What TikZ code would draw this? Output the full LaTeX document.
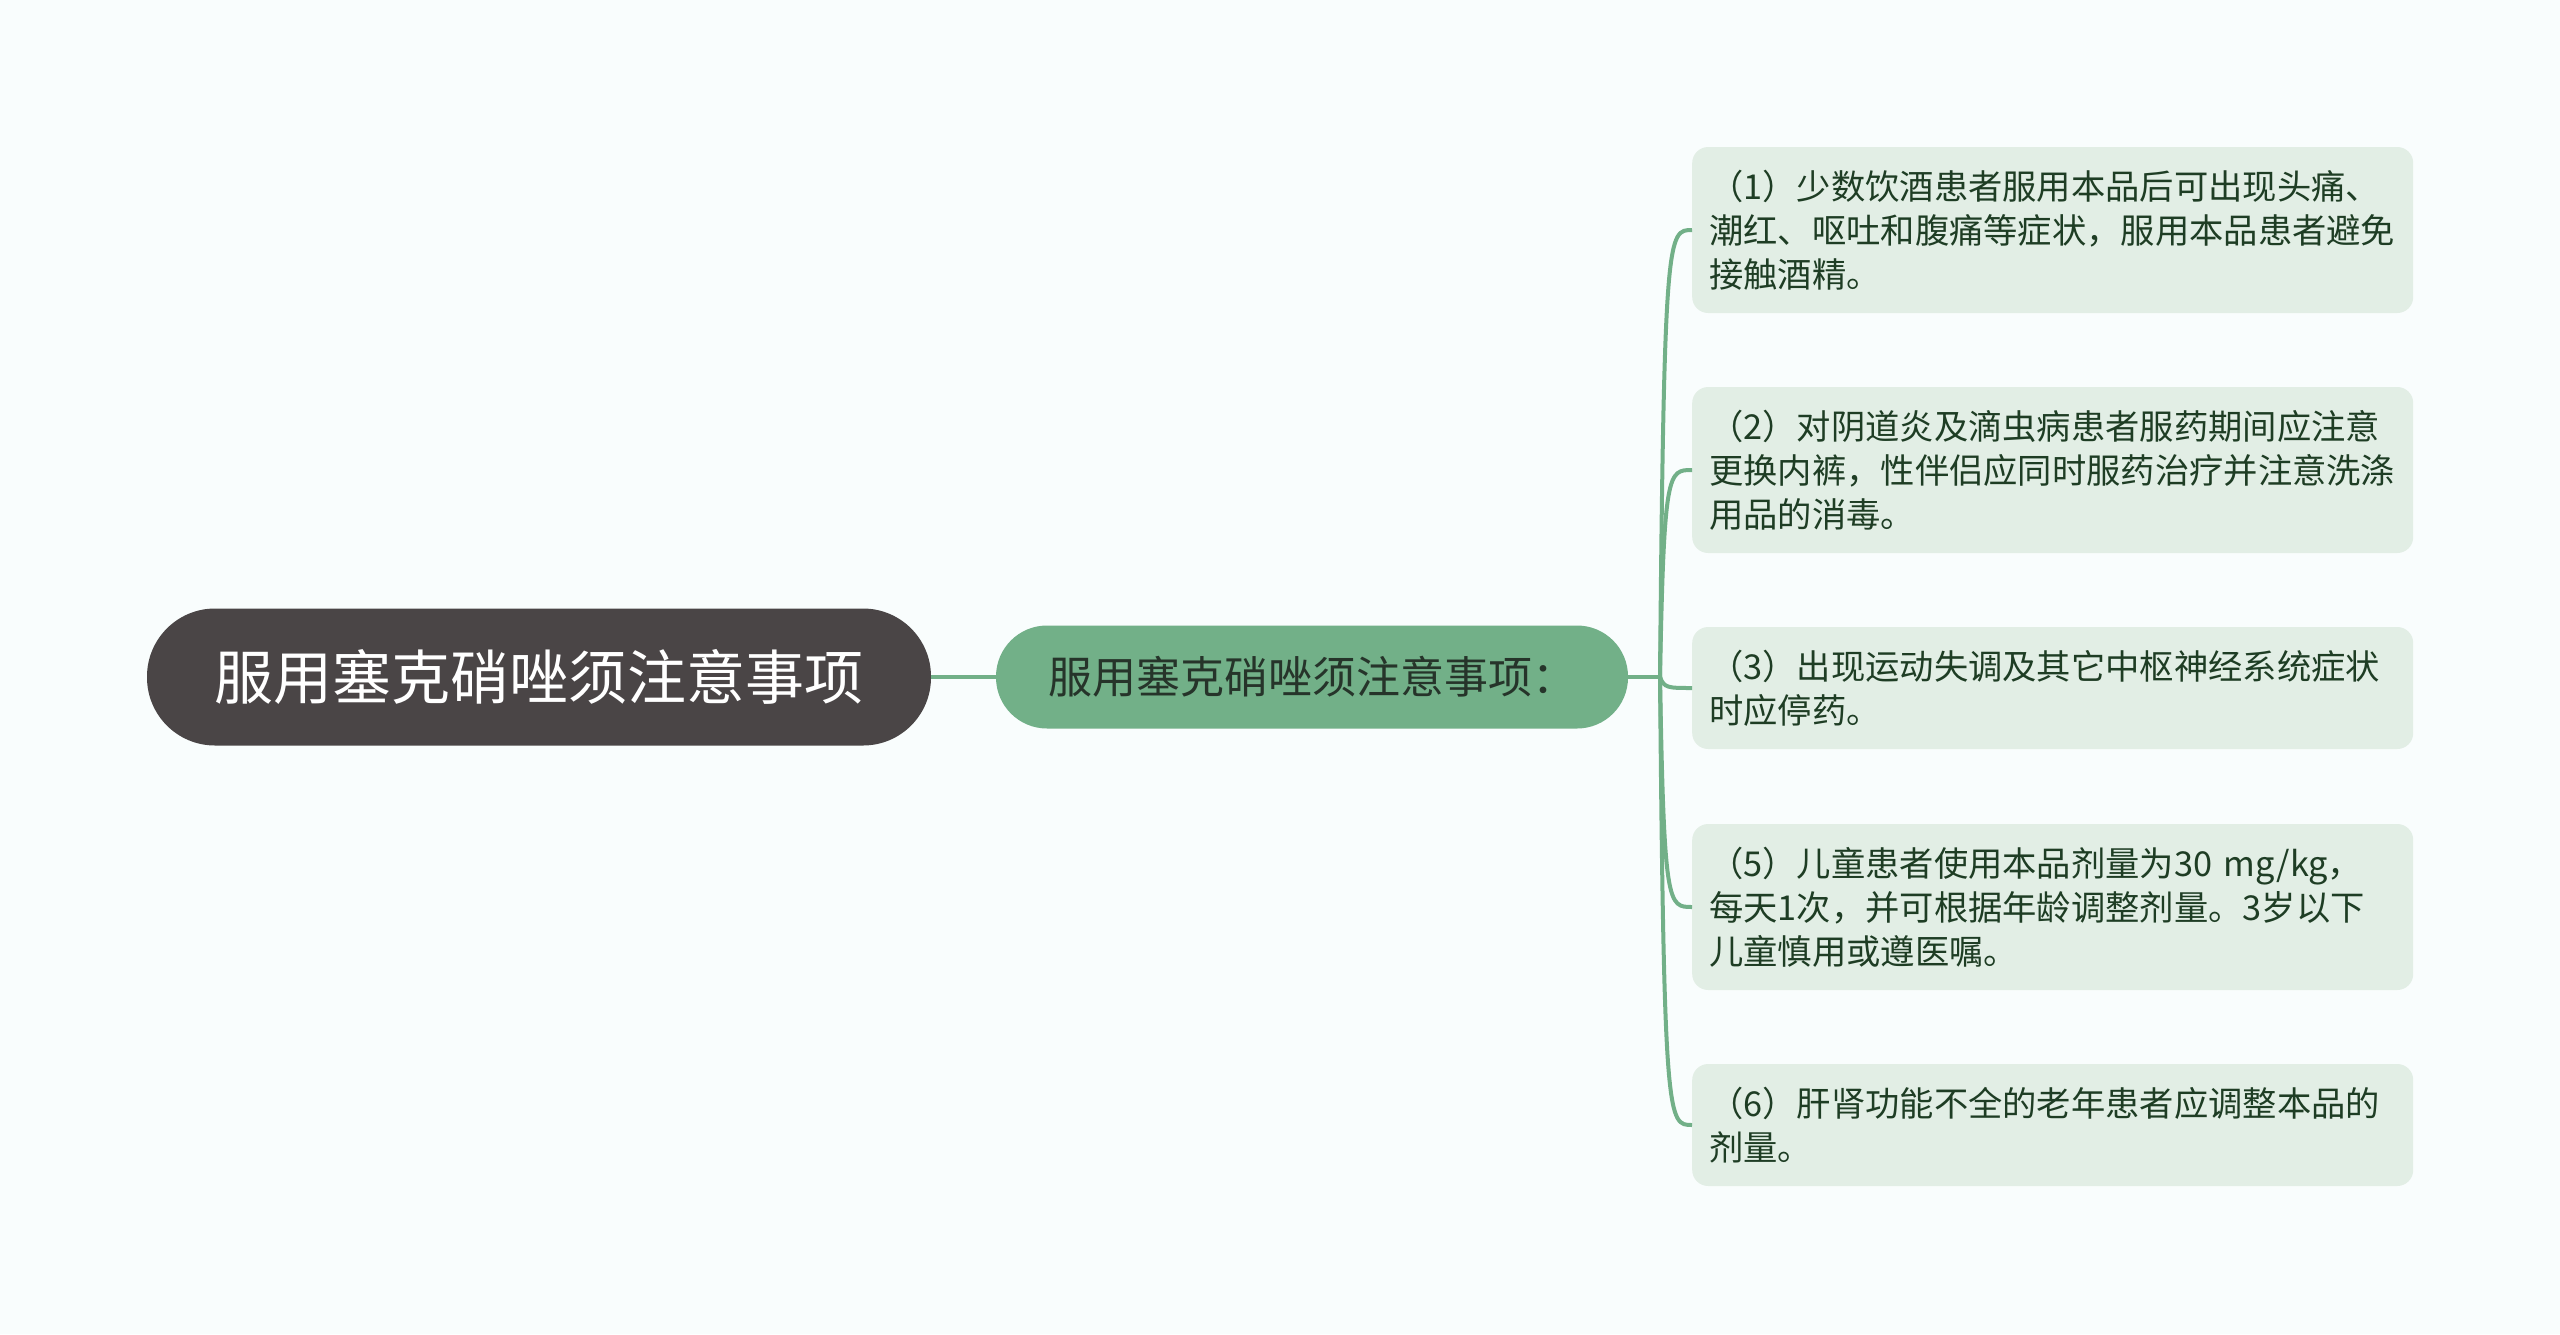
\documentclass[tikz,border=0pt]{standalone}
\usepackage{fontspec}
\usetikzlibrary{calc}
\newfontfamily\cjk{Noto Sans CJK SC}
\definecolor{bgc}{RGB}{249,253,253}
\definecolor{rootfill}{RGB}{74,69,70}
\definecolor{midfill}{RGB}{114,176,136}
\definecolor{midtext}{RGB}{38,52,42}
\definecolor{leaffill}{RGB}{226,238,229}
\definecolor{leaftext}{RGB}{30,61,36}
\definecolor{linegreen}{RGB}{114,176,136}
\tikzset{
  rootbox/.style={fill=rootfill, text=white, rounded corners=68pt, minimum width=784pt, minimum height=137pt, inner sep=0pt, font=\cjk\fontsize{59}{65}\selectfont},
  midbox/.style={fill=midfill, text=midtext, rounded corners=51pt, minimum width=632pt, minimum height=103pt, inner sep=0pt, font=\cjk\fontsize{44}{50}\selectfont},
  leafbox/.style={fill=leaffill, text=leaftext, rounded corners=16pt, text width=687pt, inner xsep=17pt, align=left, anchor=west, font=\cjk\fontsize{34.3}{44}\selectfont},
  conn/.style={draw=linegreen, line width=4pt}
}
\begin{document}
\begin{tikzpicture}[x=1pt,y=-1pt]
\useasboundingbox (0,0) rectangle (2560,1334);
\fill[bgc] (0,0) rectangle (2560,1334);
\node[rootbox] (root) at (539,677) {服用塞克硝唑须注意事项};
\node[midbox] (mid) at (1312,677) {服用塞克硝唑须注意事项：};
\coordinate (J) at (1660,677);
\node[leafbox, minimum height=166pt] (c1) at (1692,230) {（1）少数饮酒患者服用本品后可出现头痛、\\潮红、呕吐和腹痛等症状，服用本品患者避免\\接触酒精。};
\node[leafbox, minimum height=166pt] (c2) at (1692,470) {（2）对阴道炎及滴虫病患者服药期间应注意\\更换内裤，性伴侣应同时服药治疗并注意洗涤\\用品的消毒。};
\node[leafbox, minimum height=122pt] (c3) at (1692,688) {（3）出现运动失调及其它中枢神经系统症状\\时应停药。};
\node[leafbox, minimum height=166pt] (c4) at (1692,907) {（5）儿童患者使用本品剂量为30 mg/kg，\\每天1次，并可根据年龄调整剂量。3岁以下\\儿童慎用或遵医嘱。};
\node[leafbox, minimum height=122pt] (c5) at (1692,1125) {（6）肝肾功能不全的老年患者应调整本品的\\剂量。};
\draw[conn] (root.east) -- (mid.west);
\draw[conn] (mid.east) -- (J);
\foreach \c in {c1,c2,c3,c4,c5}{
  \draw[conn] (J) .. controls ($(J|-\c.west)+(4,0)$) and ($(J|-\c.west)+(8,0)$) .. (\c.west);
}
\end{tikzpicture}
\end{document}
